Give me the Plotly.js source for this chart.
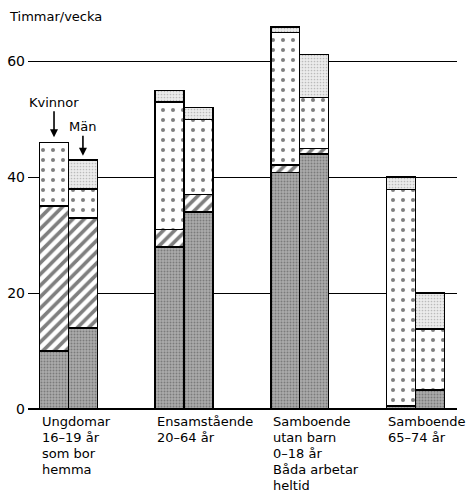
<!DOCTYPE html>
<html><head><meta charset="utf-8">
<script src="https://cdn.plot.ly/plotly-3.0.1.min.js"></script>
<style>html,body{margin:0;padding:0;background:#fff}</style>
</head><body><div id="chart" style="width:469px;height:492px"></div>
<script>
// Group labels (x categories), one entry per line
const categories = [
  ["Ungdomar", "16–19 år", "som bor", "hemma"],
  ["Ensamstående", "20–64 år"],
  ["Samboende", "utan barn", "0–18 år", "Båda arbetar", "heltid"],
  ["Samboende", "65–74 år"]
];
const segmentNames = ["Segment 1", "Segment 2", "Segment 3", "Segment 4"];
// Kvinnor: segments bottom to top (timmar/vecka)
const kvinnorSeg1 = [10, 28, 40.8, 0.5];
const kvinnorSeg2 = [25, 3, 1.3, 0];
const kvinnorSeg3 = [11, 22, 22.9, 37.4];
const kvinnorSeg4 = [0, 2, 0.9, 2.1];
// Män: segments bottom to top
const manSeg1 = [14, 34, 44, 3.3];
const manSeg2 = [19, 3, 1, 0];
const manSeg3 = [5, 13, 8.8, 10.5];
const manSeg4 = [5, 2, 7.4, 6.2];
const yTicks = [0, 20, 40, 60];
const yTickLabels = ["0", "20", "40", "60"];
const yTitle = "Timmar/vecka";
const labelKvinnor = "Kvinnor";
const labelMan = "Män";

const FONT = "DejaVu Sans, sans-serif";
const W = 0.25;
const xK = categories.map((_, i) => i - W / 2);
const xM = categories.map((_, i) => i + W / 2);

const styles = [
  {color: "#a0a0a0", pattern: {shape: ".", bgcolor: "#acacac", fgcolor: "#4a4a4a", size: 3, solidity: 0.35, fillmode: "overlay"}},
  {color: "#ffffff", pattern: {shape: "/", bgcolor: "#ffffff", fgcolor: "#000000", size: 8, solidity: 0.45, fillmode: "overlay"}},
  {color: "#ffffff", pattern: {shape: ".", bgcolor: "#ffffff", fgcolor: "#000000", size: 10, solidity: 0.13, fillmode: "overlay"}},
  {color: "#e6e6e6", pattern: {shape: ".", bgcolor: "#ececec", fgcolor: "#8a8a8a", size: 3, solidity: 0.25, fillmode: "overlay"}}
];

const kSegs = [kvinnorSeg1, kvinnorSeg2, kvinnorSeg3, kvinnorSeg4];
const mSegs = [manSeg1, manSeg2, manSeg3, manSeg4];
const traces = [];
[[xK, kSegs, labelKvinnor], [xM, mSegs, labelMan]].forEach(([xs, segs, who]) => {
  segs.forEach((vals, s) => {
    traces.push({
      type: "bar", x: xs, y: vals, width: W, name: who + " " + segmentNames[s],
      marker: {color: styles[s].color, pattern: styles[s].pattern, line: {color: "#000", width: 1.5}},
      showlegend: false, hoverinfo: "y"
    });
  });
});

const sum = (arrs, i) => arrs.reduce((a, arr) => a + arr[i], 0);

const annotations = [];
categories.forEach((lines, i) => {
  lines.forEach((line, k) => {
    annotations.push({
      x: i - W, y: 0, xref: "x", yref: "y", text: line, showarrow: false,
      xanchor: "left", yanchor: "top", align: "left", yshift: -3 - 16 * k,
      font: {family: FONT, size: 13, color: "#000"}
    });
  });
});
annotations.push({
  xref: "paper", yref: "paper", x: -0.048, y: 0.997, xanchor: "left", yanchor: "middle",
  text: yTitle, showarrow: false, font: {family: FONT, size: 13, color: "#000"}
});
annotations.push({
  x: xK[0], y: sum(kSegs, 0) + 0.9, xref: "x", yref: "y", text: labelKvinnor,
  showarrow: true, ax: 0, ay: -35, arrowhead: 2, arrowsize: 1, arrowwidth: 1.6, arrowcolor: "#000",
  font: {family: FONT, size: 13, color: "#000"}
});
annotations.push({
  x: xM[0], y: sum(mSegs, 0) + 0.7, xref: "x", yref: "y", text: labelMan,
  showarrow: true, ax: 0, ay: -29, arrowhead: 2, arrowsize: 1, arrowwidth: 1.6, arrowcolor: "#000",
  font: {family: FONT, size: 13, color: "#000"}
});

const layout = {
  width: 469, height: 492,
  margin: {l: 28, r: 12, t: 15, b: 83},
  paper_bgcolor: "#fff", plot_bgcolor: "#fff",
  barmode: "stack", bargap: 0,
  showlegend: false,
  font: {family: FONT, size: 13, color: "#000"},
  xaxis: {range: [-0.35, 3.36], showticklabels: false, showgrid: false, zeroline: false, showline: false, ticks: ""},
  yaxis: {range: [0, 68], tickvals: yTicks, ticktext: yTickLabels, showgrid: true, gridcolor: "#000", gridwidth: 1.2,
          zeroline: true, zerolinecolor: "#000", zerolinewidth: 2, showline: false, ticks: "",
          tickfont: {family: FONT, size: 14, color: "#000"}, ticklabelstandoff: 2},
  annotations: annotations
};

Plotly.newPlot("chart", traces, layout, {displayModeBar: false, staticPlot: true});
</script></body></html>
